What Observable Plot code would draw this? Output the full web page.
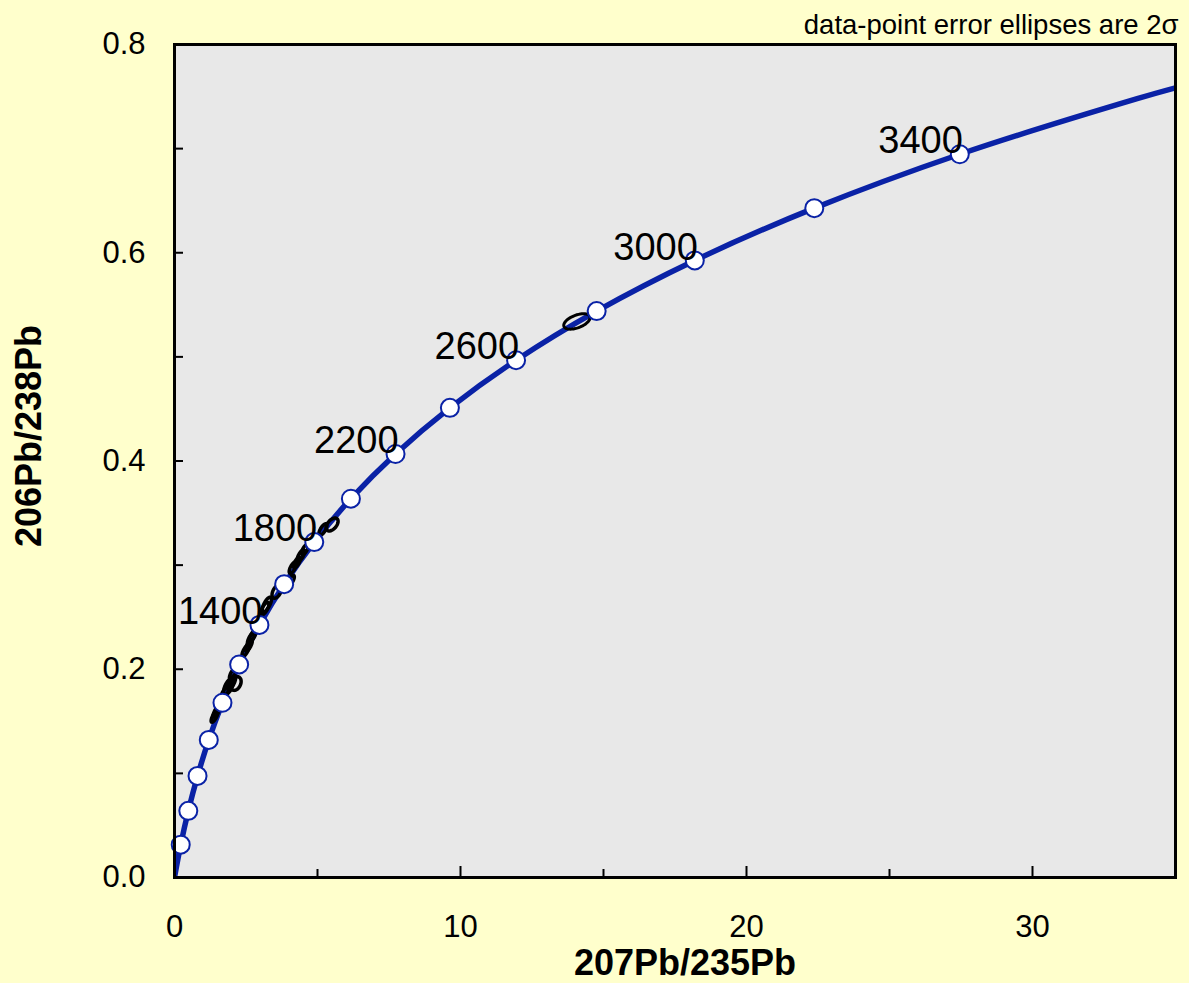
<!DOCTYPE html>
<html>
<head>
<meta charset="utf-8">
<script src="https://cdn.jsdelivr.net/npm/d3@7"></script>
<script src="https://cdn.jsdelivr.net/npm/@observablehq/plot@0.6"></script>
<style>
  html, body { margin: 0; padding: 0; background: #FFFFCC; }
  svg { display: block; }
</style>
</head>
<body>
<div id="chart"></div>
<script>
// Concordia curve: age (Ma) with 207Pb/235U and 206Pb/238U ratios
const concordiaAge = [0, 200, 400, 600, 800, 1000, 1200, 1400, 1600, 1800, 2000, 2200, 2400, 2600, 2800, 3000, 3200, 3400, 3600, 3639];
const concordiaX = [0, 0.2177, 0.4828, 0.8056, 1.1987, 1.6774, 2.2603, 2.9701, 3.8344, 4.8868, 6.1684, 7.7289, 9.6292, 11.9432, 14.7609, 18.1921, 22.3702, 27.4578, 33.66, 35.0];
const concordiaY = [0, 0.03151, 0.06402, 0.09754, 0.13213, 0.16781, 0.20461, 0.24257, 0.28172, 0.32211, 0.36378, 0.40675, 0.45108, 0.49681, 0.54398, 0.59263, 0.64282, 0.69459, 0.74799, 0.7584];

// Age markers (open circles) and labelled ages
const markerAges = [200, 400, 600, 800, 1000, 1200, 1400, 1600, 1800, 2000, 2200, 2400, 2600, 2800, 3000, 3200, 3400];
const labelAges = [1400, 1800, 2200, 2600, 3000, 3400];

// Data-point error ellipses (centre, 2-sigma half-widths, error correlation)
const ellX   = [1.40, 1.47, 1.75, 1.89, 2.00, 2.14, 2.04, 2.49, 2.60, 2.67, 2.74, 3.16, 3.23, 3.58, 4.07, 4.14, 4.28, 4.42, 4.56, 5.19, 5.51, 14.07];
const ellY   = [0.1546, 0.1594, 0.1767, 0.1834, 0.1873, 0.1863, 0.1960, 0.2180, 0.2228, 0.2295, 0.2324, 0.2583, 0.2622, 0.2747, 0.2852, 0.2977, 0.3025, 0.3092, 0.3150, 0.3342, 0.3390, 0.5340];
const ellSx  = [0.12, 0.12, 0.13, 0.17, 0.14, 0.19, 0.12, 0.13, 0.12, 0.12, 0.12, 0.14, 0.16, 0.17, 0.12, 0.13, 0.12, 0.13, 0.12, 0.14, 0.21, 0.46];
const ellSy  = [0.0055, 0.0055, 0.0060, 0.0075, 0.0065, 0.0066, 0.0055, 0.0057, 0.0055, 0.0055, 0.0055, 0.0060, 0.0070, 0.0065, 0.0050, 0.0055, 0.0050, 0.0055, 0.0050, 0.0055, 0.0062, 0.0074];
const ellRho = [0.75, 0.75, 0.7, 0.6, 0.7, 0.3, 0.75, 0.75, 0.75, 0.75, 0.75, 0.7, 0.7, 0.5, 0.7, 0.7, 0.7, 0.7, 0.7, 0.7, 0.5, 0.5];

// Axis ticks
const xMajorTicks = [10, 20, 30];
const xMinorTicks = [5, 15, 25];
const xLabelTicks = [0, 10, 20, 30];
const yAllTicks = [0.1, 0.2, 0.3, 0.4, 0.5, 0.6, 0.7];
const yLabelTicks = [0.0, 0.2, 0.4, 0.6, 0.8];

const xTitle = "207Pb/235Pb";
const yTitle = "206Pb/238Pb";
const note = "data-point error ellipses are 2\u03c3";

// Build tables
const curve = concordiaAge.map((a, i) => ({age: a, x: concordiaX[i], y: concordiaY[i]}));
const markers = curve.filter(d => markerAges.includes(d.age));
const labels = curve.filter(d => labelAges.includes(d.age));

const ellipsePts = [];
ellX.forEach((cx, i) => {
  const n = 48, r = ellRho[i], s = Math.sqrt(1 - r * r);
  for (let k = 0; k <= n; k++) {
    const t = 2 * Math.PI * k / n;
    ellipsePts.push({
      id: i,
      x: cx + ellSx[i] * Math.cos(t),
      y: ellY[i] + ellSy[i] * (r * Math.cos(t) + s * Math.sin(t)),
      big: i === ellX.length - 1
    });
  }
});

const blue = "#0a22a6";

const chart = Plot.plot({
  width: 1189,
  height: 983,
  marginLeft: 174,
  marginRight: 14,
  marginTop: 44,
  marginBottom: 106,
  style: {background: "#FFFFCC", fontFamily: "'Liberation Sans', Arial, sans-serif", color: "black"},
  x: {domain: [0, 35]},
  y: {domain: [0, 0.8]},
  marks: [
    Plot.frame({fill: "#E8E8E8"}),
    Plot.line(curve, {x: "x", y: "y", stroke: blue, strokeWidth: 5.5, curve: "catmull-rom", clip: "frame"}),
    Plot.line(ellipsePts, {x: "x", y: "y", z: "id", stroke: "black", strokeWidth: d => d.big ? 3 : 3.5, clip: "frame"}),
    Plot.dot(markers, {x: "x", y: "y", r: 9, fill: "white", stroke: blue, strokeWidth: 2}),
    Plot.text(labels, {x: "x", y: "y", text: d => String(d.age), textAnchor: "end", dx: 3, dy: -13, fontSize: 38, fill: "black"}),
    // inward ticks (axis ticks shifted inside the frame)
    Plot.axisX(xMajorTicks, {anchor: "bottom", tickSize: 11, dy: -11, strokeWidth: 2, text: null, label: null}),
    Plot.axisX(xMinorTicks, {anchor: "bottom", tickSize: 8, dy: -8, strokeWidth: 2, text: null, label: null}),
    Plot.axisY(yAllTicks, {anchor: "left", tickSize: 9, dx: 9, strokeWidth: 2, text: null, label: null}),
    // tick labels
    Plot.axisX(xLabelTicks, {tickSize: 0, tickPadding: 37, fontSize: 31, label: null}),
    Plot.axisY(yLabelTicks, {tickSize: 0, tickPadding: 29, fontSize: 31, tickFormat: d3.format(".1f"), label: null}),
    Plot.frame({stroke: "black", strokeWidth: 3}),
    // titles
    Plot.text([xTitle], {frameAnchor: "bottom", textAnchor: "middle", dx: 10, dy: 97, fontSize: 36, fontWeight: "bold", fill: "black"}),
    Plot.text([yTitle], {frameAnchor: "left", textAnchor: "middle", lineAnchor: "middle", dx: -145, dy: -25, rotate: -90, fontSize: 36, fontWeight: "bold", fill: "black"}),
    Plot.text([note], {frameAnchor: "top-right", textAnchor: "end", lineAnchor: "bottom", dx: 3, dy: -11, fontSize: 27.5, fill: "black"})
  ]
});

document.getElementById("chart").appendChild(chart);
</script>
</body>
</html>
